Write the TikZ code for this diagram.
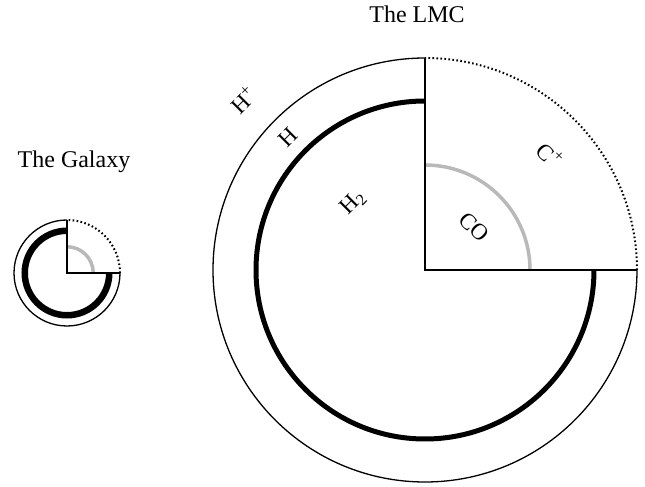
\documentclass[tikz,border=0pt]{standalone}
\usepackage{fontspec}
\setmainfont{Liberation Serif}

\begin{document}
\begin{tikzpicture}[x=1pt, y=1pt,
		rim/.style={line width=1.3pt},
		wedge/.style={line width=1.6pt},
		cplus/.style={line width=2pt, dash pattern=on 1.6pt off 2.4pt},
		coline/.style={line width=3.5pt, gray!55},
		lbl/.style={font=\fontsize{23}{23}\selectfont, inner sep=0pt},
		title/.style={font=\fontsize{24}{24}\selectfont, inner sep=0pt, anchor=base}]
		\useasboundingbox (0, 0) rectangle (645, 487);
		% same cloud drawn twice, the Galaxy at a quarter of the size
		\foreach \cx/\cy/\s/\w in {425/217/1/5pt, 67/214/0.25/6.5pt} {
			\begin{scope}[shift={(\cx, \cy)}, scale=\s]
				\draw[rim] (0, 212) arc[start angle=90, end angle=360, radius=212];
				\draw[cplus] (212, 0) arc[start angle=0, end angle=90, radius=212];
				\draw[line width=\w] (0, 169) arc[start angle=90, end angle=360, radius=169];
				\draw[coline] (105, 0) arc[start angle=0, end angle=90, radius=105];
				\draw[wedge] (0, 212) -- (0, 0) -- (212, 0);
			\end{scope}
		}
		\node[title] (lmc) at (417, 464) {The LMC};
		\node[title] (galaxy) at (74, 319) {The Galaxy};
		\node[lbl, rotate=45] (hplus) at (243, 387) {H\textsuperscript{+}};
		\node[lbl, rotate=45] (hone) at (288, 350) {H};
		\node[lbl, rotate=45] (htwo) at (353, 284) {H\textsubscript{2}};
		\node[lbl, rotate=-45] (co) at (474, 260) {CO};
		\node[lbl, rotate=-45] (cplus) at (550, 332) {C\textsuperscript{+}};
	\end{tikzpicture}
\end{document}
